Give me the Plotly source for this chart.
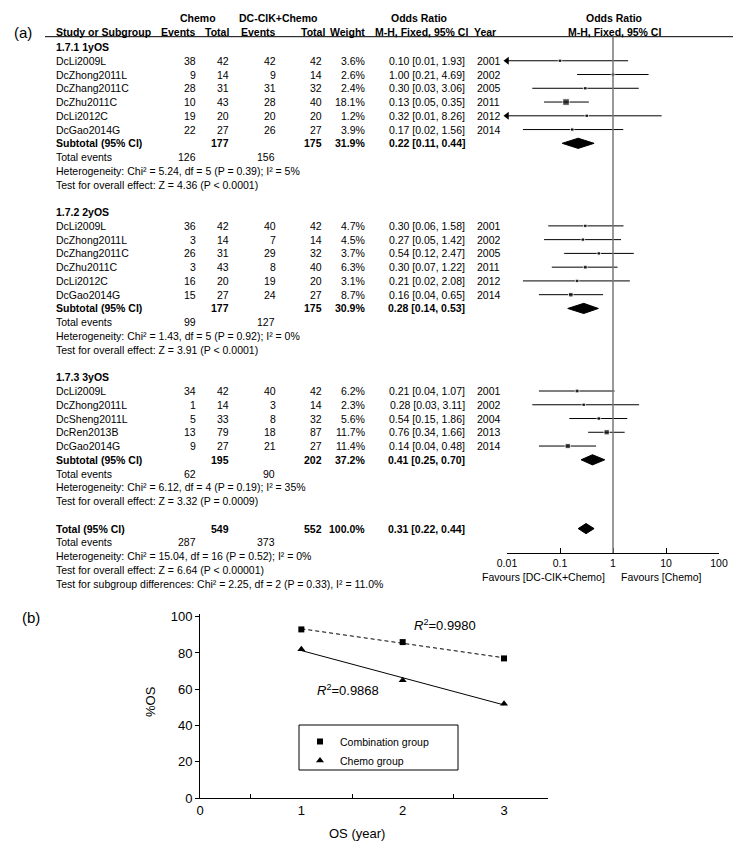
import numpy as np
import plotly.graph_objects as go

W, H = 741, 853
# the page body adds an 8px margin, so positions are given in window pixels and shifted back
OX, OY = 8, 8
FONT = "Arial, 'Liberation Sans', sans-serif"

# ---- panel (a) data ----
group_names = ["1.7.1 1yOS", "1.7.2 2yOS", "1.7.3 3yOS"]

studies_1y = ["DcLi2009L", "DcZhong2011L", "DcZhang2011C", "DcZhu2011C", "DcLi2012C", "DcGao2014G"]
chemo_ev_1y = [38, 9, 28, 10, 19, 22]
chemo_n_1y = [42, 14, 31, 43, 20, 27]
dc_ev_1y = [42, 9, 31, 28, 20, 26]
dc_n_1y = [42, 14, 32, 40, 20, 27]
weight_1y = [3.6, 2.6, 2.4, 18.1, 1.2, 3.9]
or_1y = [0.10, 1.00, 0.30, 0.13, 0.32, 0.17]
lo_1y = [0.01, 0.21, 0.03, 0.05, 0.01, 0.02]
hi_1y = [1.93, 4.69, 3.06, 0.35, 8.26, 1.56]
year_1y = [2001, 2002, 2005, 2011, 2012, 2014]

studies_2y = ["DcLi2009L", "DcZhong2011L", "DcZhang2011C", "DcZhu2011C", "DcLi2012C", "DcGao2014G"]
chemo_ev_2y = [36, 3, 26, 3, 16, 15]
chemo_n_2y = [42, 14, 31, 43, 20, 27]
dc_ev_2y = [40, 7, 29, 8, 19, 24]
dc_n_2y = [42, 14, 32, 40, 20, 27]
weight_2y = [4.7, 4.5, 3.7, 6.3, 3.1, 8.7]
or_2y = [0.30, 0.27, 0.54, 0.30, 0.21, 0.16]
lo_2y = [0.06, 0.05, 0.12, 0.07, 0.02, 0.04]
hi_2y = [1.58, 1.42, 2.47, 1.22, 2.08, 0.65]
year_2y = [2001, 2002, 2005, 2011, 2012, 2014]

studies_3y = ["DcLi2009L", "DcZhong2011L", "DcSheng2011L", "DcRen2013B", "DcGao2014G"]
chemo_ev_3y = [34, 1, 5, 13, 9]
chemo_n_3y = [42, 14, 33, 79, 27]
dc_ev_3y = [40, 3, 8, 18, 21]
dc_n_3y = [42, 14, 32, 87, 27]
weight_3y = [6.2, 2.3, 5.6, 11.7, 11.4]
or_3y = [0.21, 0.28, 0.54, 0.76, 0.14]
lo_3y = [0.04, 0.03, 0.15, 0.34, 0.04]
hi_3y = [1.07, 3.11, 1.86, 1.66, 0.48]
year_3y = [2001, 2002, 2004, 2013, 2014]

sub_chemo_n = [177, 177, 195]
sub_dc_n = [175, 175, 202]
sub_weight = [31.9, 30.9, 37.2]
sub_or = [0.22, 0.28, 0.41]
sub_lo = [0.11, 0.14, 0.25]
sub_hi = [0.44, 0.53, 0.70]
sub_chemo_events = [126, 99, 62]
sub_dc_events = [156, 127, 90]
sub_het = ["Chi² = 5.24, df = 5 (P = 0.39); I² = 5%",
           "Chi² = 1.43, df = 5 (P = 0.92); I² = 0%",
           "Chi² = 6.12, df = 4 (P = 0.19); I² = 35%"]
sub_z = ["Z = 4.36 (P < 0.0001)", "Z = 3.91 (P < 0.0001)", "Z = 3.32 (P = 0.0009)"]

total_chemo_n, total_dc_n = 549, 552
total_or, total_lo, total_hi = 0.31, 0.22, 0.44
total_chemo_events, total_dc_events = 287, 373
total_het = "Chi² = 15.04, df = 16 (P = 0.52); I² = 0%"
total_z = "Z = 6.64 (P < 0.00001)"
subgroup_diff = "Chi² = 2.25, df = 2 (P = 0.33), I² = 11.0%"

or_ticks = [0.01, 0.1, 1, 10, 100]
or_ticktext = ["0.01", "0.1", "1", "10", "100"]

# ---- panel (b) data ----
os_year = [1, 2, 3]
os_combination = [93, 86, 77]
os_chemo = [82, 65, 52]
r2_combination = "0.9980"
r2_chemo = "0.9868"

groups = [
    (studies_1y, chemo_ev_1y, chemo_n_1y, dc_ev_1y, dc_n_1y, weight_1y, or_1y, lo_1y, hi_1y, year_1y),
    (studies_2y, chemo_ev_2y, chemo_n_2y, dc_ev_2y, dc_n_2y, weight_2y, or_2y, lo_2y, hi_2y, year_2y),
    (studies_3y, chemo_ev_3y, chemo_n_3y, dc_ev_3y, dc_n_3y, weight_3y, or_3y, lo_3y, hi_3y, year_3y),
]

ROW0, ROW_H = 47, 13.76
COL_STUDY, COL_CE, COL_CT, COL_DE, COL_DT, COL_W = 54, 198, 230.5, 278, 323.5, 367
COL_OR, COL_YEAR = 466.5, 475


def fx(x):
    return (x - OX) / W


def fy(y):
    return 1 - (y - OY) / H


ann = []


def label(x, y, text, anchor="left", bold=False, size=10.5, **kw):
    if bold:
        text = f"<b>{text}</b>"
    ann.append(dict(x=fx(x), y=fy(y), xref="paper", yref="paper", text=text,
                    xanchor=anchor, yanchor="middle", showarrow=False,
                    font=dict(family=FONT, size=size, color="black"), **kw))


def row_y(i):
    return ROW0 + ROW_H * i


# header
label(198, 18, "Chemo", "center", True)
label(278, 18, "DC-CIK+Chemo", "center", True)
label(419, 18, "Odds Ratio", "center", True)
label(614, 18, "Odds Ratio", "center", True)
label(COL_STUDY, 32, "Study or Subgroup", bold=True)
label(COL_CE, 32, "Events", "right", True)
label(231, 32, "Total", "right", True)
label(278, 32, "Events", "right", True)
label(327, 32, "Total", "right", True)
label(367, 32, "Weight", "right", True)
label(421, 32, "M-H, Fixed, 95% CI", "center", True)
label(498, 32, "Year", "right", True)
label(614, 32, "M-H, Fixed, 95% CI", "center", True)
label(12, 33, "(a)", size=15)

ci_x, ci_y, sq_x, sq_y, sq_size = [], [], [], [], []
dia_x, dia_y = [], []
arrow_x, arrow_y = [], []


def add_diamond(r, c, lo, hi, h=0.37):
    dia_x.extend([lo, c, hi, c, lo, None])
    dia_y.extend([r, r - h, r, r + h, r, None])


r = 0
for g, (names, ce, cn, de, dn, wt, orv, lo, hi, yr) in enumerate(groups):
    label(COL_STUDY, row_y(r), group_names[g], bold=True)
    for k in range(len(names)):
        r += 1
        y = row_y(r)
        label(COL_STUDY, y, names[k])
        label(COL_CE, y, str(ce[k]), "right")
        label(COL_CT, y, str(cn[k]), "right")
        label(COL_DE, y, str(de[k]), "right")
        label(COL_DT, y, str(dn[k]), "right")
        label(COL_W, y, f"{wt[k]:.1f}%", "right")
        label(COL_OR, y, f"{orv[k]:.2f} [{lo[k]:.2f}, {hi[k]:.2f}]", "right")
        label(COL_YEAR, y, str(yr[k]))
        ci_x.extend([lo[k], hi[k], None])
        ci_y.extend([r, r, None])
        sq_x.append(orv[k])
        sq_y.append(r)
        sq_size.append(max(3.5, 1.55 * np.sqrt(wt[k])))
        if lo[k] <= or_ticks[0]:
            arrow_x.append(or_ticks[0])
            arrow_y.append(r)
    r += 1
    y = row_y(r)
    label(COL_STUDY, y, "Subtotal (95% CI)", bold=True)
    label(COL_CT, y, str(sub_chemo_n[g]), "right", True)
    label(COL_DT, y, str(sub_dc_n[g]), "right", True)
    label(COL_W, y, f"{sub_weight[g]:.1f}%", "right", True)
    label(COL_OR, y, f"{sub_or[g]:.2f} [{sub_lo[g]:.2f}, {sub_hi[g]:.2f}]", "right", True)
    add_diamond(r, sub_or[g], sub_lo[g], sub_hi[g])
    r += 1
    label(COL_STUDY, row_y(r), "Total events")
    label(COL_CE, row_y(r), str(sub_chemo_events[g]), "right")
    label(COL_DE - 1, row_y(r), str(sub_dc_events[g]), "right")
    r += 1
    label(COL_STUDY, row_y(r), "Heterogeneity: " + sub_het[g])
    r += 1
    label(COL_STUDY, row_y(r), "Test for overall effect: " + sub_z[g])
    r += 2

y = row_y(r)
label(COL_STUDY, y, "Total (95% CI)", bold=True)
label(COL_CT, y, str(total_chemo_n), "right", True)
label(COL_DT, y, str(total_dc_n), "right", True)
label(COL_W, y, "100.0%", "right", True)
label(COL_OR, y, f"{total_or:.2f} [{total_lo:.2f}, {total_hi:.2f}]", "right", True)
add_diamond(r, total_or, total_lo, total_hi)
label(COL_STUDY, row_y(r + 1), "Total events")
label(COL_CE, row_y(r + 1), str(total_chemo_events), "right")
label(COL_DE - 1, row_y(r + 1), str(total_dc_events), "right")
label(COL_STUDY, row_y(r + 2), "Heterogeneity: " + total_het)
label(COL_STUDY, row_y(r + 3), "Test for overall effect: " + total_z)
label(COL_STUDY, row_y(r + 4), "Test for subgroup differences: " + subgroup_diff)

label(607, 577, "Favours [DC-CIK+Chemo]", "right")
label(619, 577, "Favours [Chemo]")

# panel (b) texts
label(20, 617, "(b)", size=15)
label(412, 625, f"<i>R</i><sup>2</sup>={r2_combination}", size=13)
label(315, 690, f"<i>R</i><sup>2</sup>={r2_chemo}", size=13)
label(357, 833, "OS (year)", "center", size=13)
label(150, 702, "%OS", "center", size=13, textangle=-90)

fig = go.Figure()

fig.add_trace(go.Scatter(x=ci_x, y=ci_y, mode="lines", line=dict(color="black", width=1),
                         showlegend=False, cliponaxis=False, hoverinfo="skip"))
fig.add_trace(go.Scatter(x=sq_x, y=sq_y, mode="markers", showlegend=False, cliponaxis=False,
                         marker=dict(symbol="square", size=sq_size, color="black")))
fig.add_trace(go.Scatter(x=arrow_x, y=arrow_y, mode="markers", showlegend=False, cliponaxis=False,
                         marker=dict(symbol="triangle-left", size=7, color="black")))
fig.add_trace(go.Scatter(x=dia_x, y=dia_y, mode="lines", fill="toself", fillcolor="black",
                         line=dict(color="black", width=1), showlegend=False, hoverinfo="skip"))

# panel (b)
fit_comb = np.polyval(np.polyfit(os_year, os_combination, 1), os_year)
fit_chemo = np.polyval(np.polyfit(os_year, os_chemo, 1), os_year)
fig.add_trace(go.Scatter(x=os_year, y=fit_comb, mode="lines", xaxis="x2", yaxis="y2",
                         line=dict(color="black", width=1, dash="4px,3px"), showlegend=False))
fig.add_trace(go.Scatter(x=os_year, y=fit_chemo, mode="lines", xaxis="x2", yaxis="y2",
                         line=dict(color="black", width=1), showlegend=False))
fig.add_trace(go.Scatter(x=os_year, y=os_combination, mode="markers", xaxis="x2", yaxis="y2",
                         name="Combination group", cliponaxis=False,
                         marker=dict(symbol="square", size=6, color="black")))
fig.add_trace(go.Scatter(x=os_year, y=os_chemo, mode="markers", xaxis="x2", yaxis="y2",
                         name="Chemo group", cliponaxis=False,
                         marker=dict(symbol="triangle-up", size=7, color="black")))

shapes = [
    dict(type="line", xref="paper", yref="paper", x0=fx(45), x1=1, y0=fy(36.7), y1=fy(36.7),
         line=dict(color="black", width=1)),
    dict(type="line", xref="x", yref="paper", x0=1, x1=1, y0=fy(553), y1=fy(36.7),
         line=dict(color="#777", width=1.5)),
    dict(type="rect", xref="paper", yref="paper", x0=fx(299), x1=fx(458), y0=fy(770), y1=fy(725),
         line=dict(color="black", width=1)),
]

fig.update_layout(
    width=W,
    height=H,
    margin=dict(l=0, r=0, t=0, b=0, pad=0, autoexpand=False),
    paper_bgcolor="white",
    plot_bgcolor="white",
    font=dict(family=FONT, color="black", size=10.5),
    annotations=ann,
    shapes=shapes,
    showlegend=True,
    legend=dict(x=fx(300), y=fy(727), xanchor="left", yanchor="top",
                bgcolor="rgba(0,0,0,0)", borderwidth=0, font=dict(size=10.5), tracegroupgap=0),
    xaxis=dict(type="log", range=[-2, 2], domain=[fx(507), fx(719)], anchor="free",
               position=fy(553), showline=True, linecolor="black", linewidth=1,
               ticks="inside", ticklen=5, tickcolor="black", tickvals=or_ticks, ticktext=or_ticktext,
               showgrid=False, zeroline=False, tickfont=dict(size=10.5), automargin=False),
    yaxis=dict(range=[(H + OY - ROW0) / ROW_H, (OY - ROW0) / ROW_H], domain=[0, 1], visible=False,
               showgrid=False, zeroline=False, automargin=False),
    xaxis2=dict(range=[0, 3.434], domain=[fx(200), fx(548)], anchor="y2", showline=True,
                linecolor="black", linewidth=1, tickvals=[0, 1, 2, 3], ticks="", showgrid=False,
                zeroline=False, tickfont=dict(size=13), automargin=False,
                minor=dict(tickvals=[0.5, 1.5, 2.5], ticks="inside", ticklen=4, tickcolor="black")),
    yaxis2=dict(range=[0, 101.5], domain=[fy(798), fy(614)], anchor="x2", showline=True,
                linecolor="black", linewidth=1, tickvals=[0, 20, 40, 60, 80, 100], ticks="outside",
                ticklen=4, tickcolor="black", showgrid=False, zeroline=False, tickfont=dict(size=13),
                automargin=False),
)

fig.write_html("out.html")
